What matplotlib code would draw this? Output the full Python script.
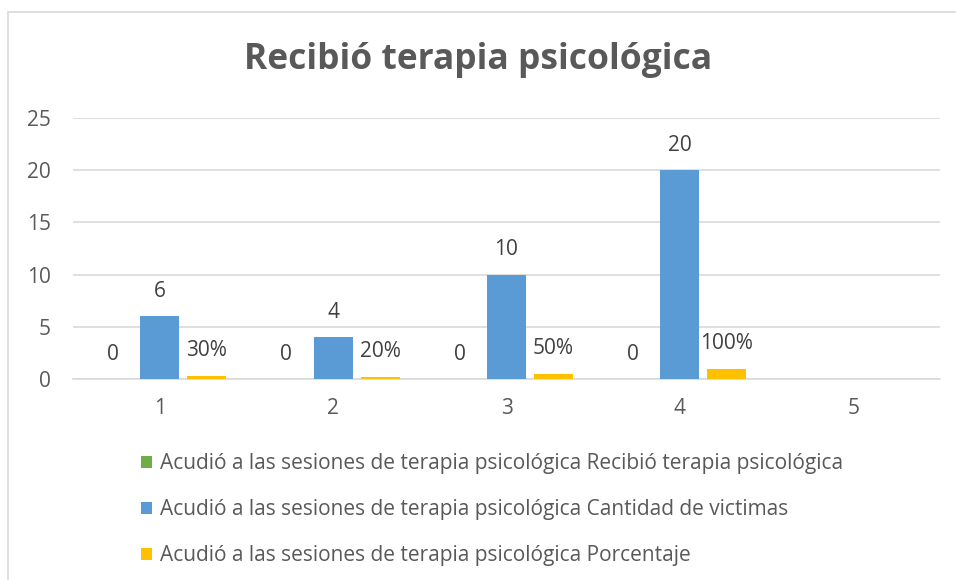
import numpy as np
import matplotlib
matplotlib.use("Agg")
import matplotlib.pyplot as plt
from matplotlib.patches import Rectangle, Patch

plt.rcParams["font.family"] = ["Open Sans", "DejaVu Sans"]

# data
categories = ["1", "2", "3", "4", "5"]
recibio = [0, 0, 0, 0]
cantidad = [6, 4, 10, 20]
porcentaje = [0.3, 0.2, 0.5, 1.0]
series_names = [
    "Acudió a las sesiones de terapia psicológica Recibió terapia psicológica",
    "Acudió a las sesiones de terapia psicológica Cantidad de victimas",
    "Acudió a las sesiones de terapia psicológica Porcentaje",
]
colors = ["#70AD47", "#5B9BD5", "#FFC000"]

text_color = "#404040"
tick_color = "#595959"
grid_color = "#D9D9D9"
fs = 15

fig = plt.figure(figsize=(9.56, 5.8), dpi=100)
fig.patches.append(Rectangle((8 / 956, -0.1), 1.1, 1 - 12 / 580 + 0.1,
                             transform=fig.transFigure, fill=False,
                             edgecolor="#D9D9D9", linewidth=1.2))

ax = fig.add_axes([73 / 956, 1 - 379 / 580, 867 / 956, 261 / 580])

x = np.arange(len(recibio))
width = 0.225
offset = 0.271

data = [recibio, cantidad, porcentaje]
labels_fmt = [lambda v: f"{v:g}", lambda v: f"{v:g}", lambda v: f"{v*100:.0f}%"]
for i, (vals, col, fmt) in enumerate(zip(data, colors, labels_fmt)):
    pos = x + (i - 1) * offset
    ax.bar(pos, vals, width=width, color=col, zorder=3)
    for px, v in zip(pos, vals):
        ax.annotate(fmt(v), (px, v), xytext=(0, 18), textcoords="offset points",
                    ha="center", va="center", fontsize=fs, color=text_color)

ax.set_xlim(-0.5, len(categories) - 0.5)
ax.set_ylim(0, 25)
ax.set_yticks(range(0, 26, 5))
ax.set_xticks(range(len(categories)))
ax.set_xticklabels(categories)
ax.yaxis.grid(True, color=grid_color, linewidth=1.2, zorder=0)
ax.set_axisbelow(True)
for s in ["top", "right", "left"]:
    ax.spines[s].set_visible(False)
ax.spines["bottom"].set_color(grid_color)
ax.spines["bottom"].set_linewidth(1.2)
ax.tick_params(axis="both", length=0, labelsize=fs, labelcolor=tick_color)
ax.tick_params(axis="y", pad=16)
ax.tick_params(axis="x", pad=14)

fig.text(0.5, 1 - 60 / 580, "Recibió terapia psicológica", ha="center", va="center",
         fontsize=25.5, fontweight="bold", color=tick_color)

handles = [Patch(facecolor=c) for c in colors]
fig.legend(handles, series_names, loc="center left",
           bbox_to_anchor=(141 / 956, 1 - 510 / 580), frameon=False,
           fontsize=fs, labelcolor=tick_color, borderpad=0, borderaxespad=0,
           handlelength=0.53, handleheight=0.53, handletextpad=0.4,
           labelspacing=1.2)

fig.savefig("out.png", dpi=100)
